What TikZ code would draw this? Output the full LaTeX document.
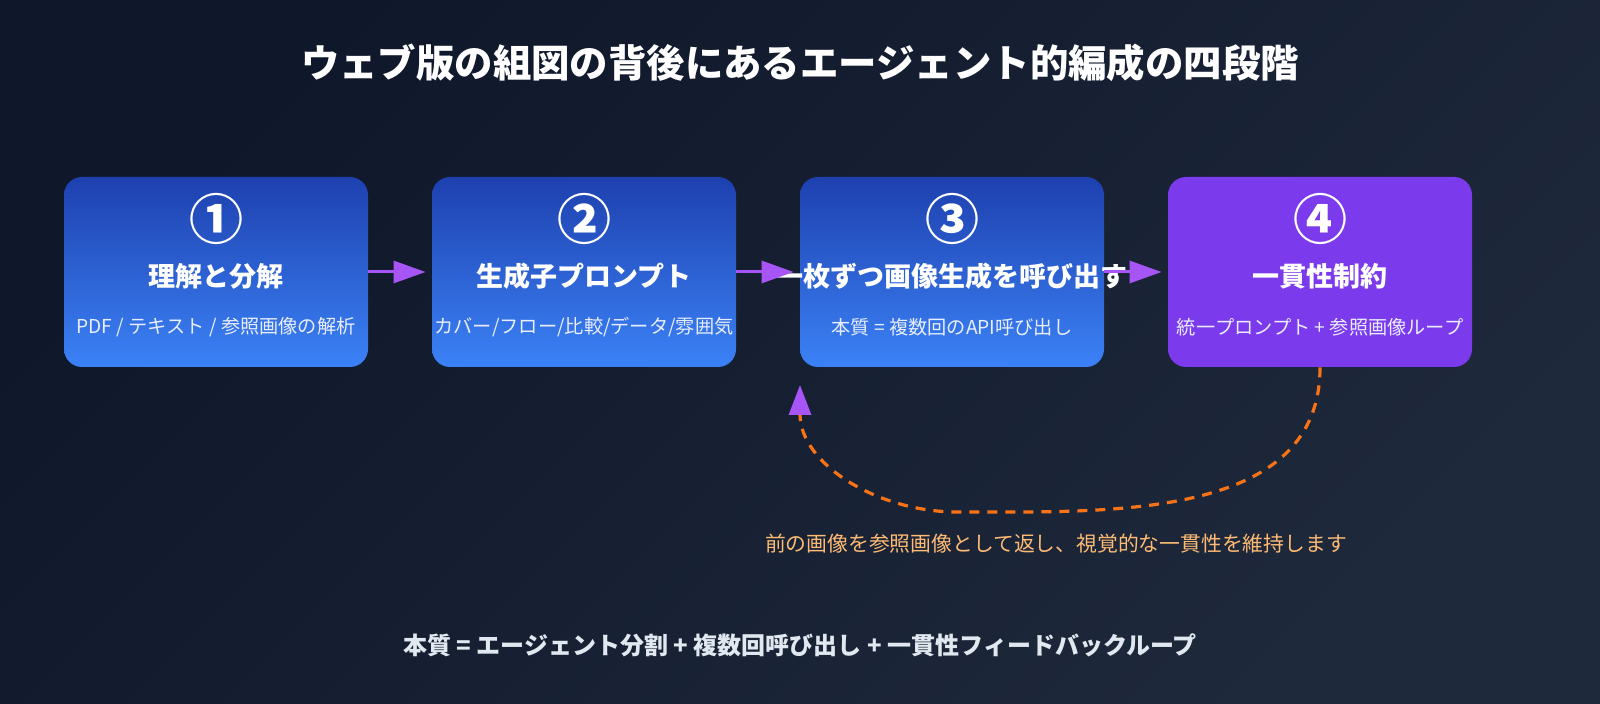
\documentclass[tikz,border=0pt]{standalone}
\usepackage{fontspec}
\setmainfont{Noto Sans CJK JP}
\usetikzlibrary{arrows.meta,positioning}
\definecolor{bgdark}{HTML}{0F172A}
\definecolor{bglight}{HTML}{1E293B}
\definecolor{boxtop}{HTML}{1E40AF}
\definecolor{boxbot}{HTML}{3B82F6}
\definecolor{boxviolet}{HTML}{7C3AED}
\definecolor{arrviolet}{HTML}{A855F7}
\definecolor{loopor}{HTML}{F97316}
\definecolor{noteor}{HTML}{FDBA74}
\definecolor{footgray}{HTML}{E2E8F0}
\definecolor{subwhite}{HTML}{E8EEFF}

\begin{document}
\begin{tikzpicture}[x=0.5pt, y=0.5pt,
  stage/.style={rectangle, rounded corners=9pt, minimum width=152pt, minimum height=95pt, inner sep=0pt},
  bluestage/.style={stage, top color=boxtop, bottom color=boxbot},
  num/.style={text=white, font=\fontsize{27}{29}\selectfont\bfseries},
  head/.style={text=white, font=\fontsize{13.5}{16}\selectfont\bfseries},
  sub/.style={text=subwhite, font=\fontsize{9.6}{12}\selectfont},
  arr/.style={-{Triangle[length=16pt,width=11pt]}, line width=1.5pt, arrviolet, shorten >=3pt},
  fb/.style={-{Triangle[length=15pt,width=11pt,color=arrviolet]}, line width=1.6pt, loopor, dash pattern=on 5pt off 4pt}
]
\useasboundingbox (0,0) rectangle (1600,-704);
\shade[top color=bgdark, bottom color=bglight, shading angle=45] (0,0) rectangle (1600,-704);

\node[text=white, font=\fontsize{19.2}{22}\selectfont\bfseries] (title) at (800,-63) {ウェブ版の組図の背後にあるエージェント的編成の四段階};

\node[bluestage] (b1) at (216,-272) {};
\node[bluestage] (b2) at (584,-272) {};
\node[bluestage] (b3) at (952,-272) {};
\node[stage, fill=boxviolet] (b4) at (1320,-272) {};

\node[num] (n1) at (216,-219) {①};
\node[head] (h1) at (216,-276) {理解と分解};
\node[sub] (s1) at (216,-327) {PDF / テキスト / 参照画像の解析};

\node[num] (n2) at (584,-219) {②};
\node[head] (h2) at (584,-276) {生成子プロンプト};
\node[sub] (s2) at (584,-327) {カバー/フロー/比較/データ/雰囲気};

\node[num] (n3) at (952,-219) {③};
\node[head] (h3) at (952,-276) {一枚ずつ画像生成を呼び出す};
\node[sub] (s3) at (952,-327) {本質 = 複数回のAPI呼び出し};

\node[num] (n4) at (1320,-219) {④};
\node[head] (h4) at (1320,-276) {一貫性制約};
\node[sub] (s4) at (1320,-327) {統一プロンプト + 参照画像ループ};

\draw[arr] (b1) -- (b2);
\draw[arr] (b2) -- (b3);
\draw[arr] (b3) -- (b4);

% feedback loop
\coordinate (fblow) at (957,-512);
\coordinate (fbend) at (800,-385);
\draw[fb] (b4.south) to[out=-90,in=0] (fblow) to[out=180,in=-90] (fbend);

\node[text=noteor, font=\fontsize{10.4}{13}\selectfont] (note) at (1056,-544) {前の画像を参照画像として返し、視覚的な一貫性を維持します};

\node[text=footgray, font=\fontsize{12}{14}\selectfont\bfseries] (foot) at (800,-645) {本質 = エージェント分割 + 複数回呼び出し + 一貫性フィードバックループ};
\end{tikzpicture}
\end{document}
